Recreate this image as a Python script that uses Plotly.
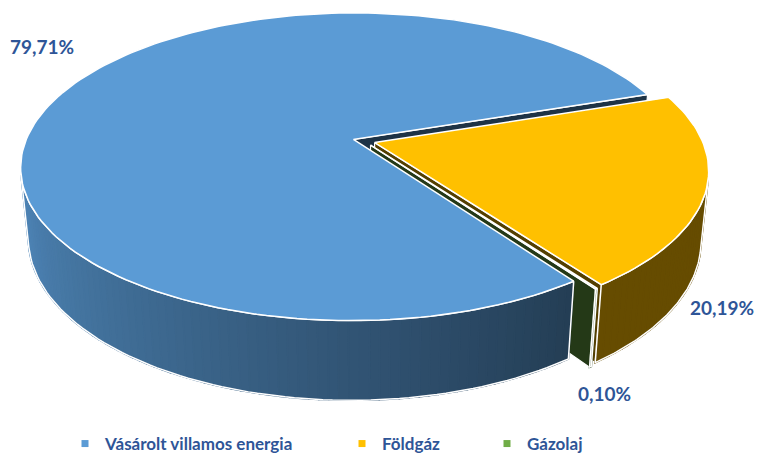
import numpy as np
import plotly.graph_objects as go

# ---- data ----
categories = ["Vásárolt villamos energia", "Földgáz", "Gázolaj"]
values = [79.71, 20.19, 0.10]
top_colors = ["#5B9BD5", "#FFC000", "#70AD47"]
label_color = "#2E5597"

# ---- 3D view settings ----
W, H = 758, 454
CX, CY, F = 364, 141, 1639
ELEV = np.radians(27.15)
S, C = np.sin(ELEV), np.cos(ELEV)
D = 5.62 * C
DEPTH = 0.245
PULL = 0.034
ROT = 144.5  # start angle of first slice, clockwise from far side


def proj(X, Y, Z):
    X, Y, Z = np.asarray(X, float), np.asarray(Y, float), np.asarray(Z, float)
    d = Y * C - Z * S + D
    return CX + F * X / d, CY - F * (Y * S + Z * C) / d, d


def hex2rgb(h):
    h = h.lstrip("#")
    return [int(h[i:i + 2], 16) for i in (0, 2, 4)]


def shade(h, f):
    r, g, b = hex2rgb(h)
    return "rgb(%d,%d,%d)" % (r * f, g * f, b * f)


def wall_factor(theta):
    t = theta % 360
    return 0.40 + 0.47 * np.clip((t - 145) / 111, 0, 1)


fig = go.Figure()
total = sum(values)
walls = []   # (depth, x, y, color, outline)
tops = []
cum = 0.0
for i, v in enumerate(values):
    a0 = ROT + 360 * cum / total
    a1 = a0 + 360 * v / total
    cum += v
    mid = np.radians((a0 + a1) / 2)
    ox, oy = PULL * np.sin(mid), PULL * np.cos(mid)
    n = max(3, int((a1 - a0) / 1.5) + 2)
    th = np.radians(np.linspace(a0, a1, n))
    # top face
    X = np.concatenate([[ox], ox + np.sin(th), [ox]])
    Y = np.concatenate([[oy], oy + np.cos(th), [oy]])
    tx, ty, _ = proj(X, Y, np.zeros_like(X))
    tops.append((tx, ty, top_colors[i]))
    # rim wall: small quads where visible
    vis_pts = []
    for k in range(n - 1):
        tm = (th[k] + th[k + 1]) / 2
        if 1 + ox * np.sin(tm) + oy * np.cos(tm) + D * C * np.cos(tm) < 0:
            ta, tb = th[k], th[k + 1]
            Xq = [ox + np.sin(ta), ox + np.sin(tb), ox + np.sin(tb), ox + np.sin(ta), ox + np.sin(ta)]
            Yq = [oy + np.cos(ta), oy + np.cos(tb), oy + np.cos(tb), oy + np.cos(ta), oy + np.cos(ta)]
            Zq = [0, 0, -DEPTH, -DEPTH, 0]
            qx, qy, qd = proj(Xq, Yq, Zq)
            col = shade(top_colors[i], wall_factor(np.degrees(tm)))
            walls.append((qd.mean() - 0.5, qx, qy, col, False))
            vis_pts.append((ta, tb))
    if vis_pts:
        ta, tb = vis_pts[0][0], vis_pts[-1][1]
        tt = np.linspace(ta, tb, 80)
        Xo = np.concatenate([ox + np.sin(tt), ox + np.sin(tt[::-1]), [ox + np.sin(ta)]])
        Yo = np.concatenate([oy + np.cos(tt), oy + np.cos(tt[::-1]), [oy + np.cos(ta)]])
        Zo = np.concatenate([np.zeros(80), -DEPTH * np.ones(80), [0]])
        qx, qy, qd = proj(Xo, Yo, Zo)
        walls.append((-100, qx, qy, None, True))
    # radial faces
    for ang, nvec in ((a0, (-np.cos(np.radians(a0)), np.sin(np.radians(a0)))),
                      (a1, (np.cos(np.radians(a1)), -np.sin(np.radians(a1))))):
        if nvec[0] * ox + nvec[1] * (oy + D * C) < 0:
            r = np.radians(ang)
            Xq = [ox, ox + np.sin(r), ox + np.sin(r), ox, ox]
            Yq = [oy, oy + np.cos(r), oy + np.cos(r), oy, oy]
            Zq = [0, 0, -DEPTH, -DEPTH, 0]
            qx, qy, qd = proj(Xq, Yq, Zq)
            walls.append((qd.mean(), qx, qy, shade(top_colors[i], 0.33), True))

walls.sort(key=lambda w: -w[0])
for dep, qx, qy, col, outline in walls:
    if col is None:
        continue
    fig.add_trace(go.Scatter(x=qx, y=qy, mode="lines", fill="toself", fillcolor=col,
                             line=dict(color=col if not outline else "white",
                                       width=1.6 if not outline else 1.2),
                             hoverinfo="skip", showlegend=False))
for dep, qx, qy, col, outline in walls:
    if col is None:
        fig.add_trace(go.Scatter(x=qx, y=qy, mode="lines", line=dict(color="white", width=1.5),
                                 hoverinfo="skip", showlegend=False))
for tx, ty, col in tops:
    fig.add_trace(go.Scatter(x=tx, y=ty, mode="lines", fill="toself", fillcolor=col,
                             line=dict(color="white", width=1.5),
                             hoverinfo="skip", showlegend=False))

# legend entries (one legend per entry to reproduce spacing)
legend_x = [65, 342, 487]
for i, cat in enumerate(categories):
    lg = "legend" if i == 0 else "legend%d" % (i + 1)
    fig.add_trace(go.Scatter(x=[None], y=[None], mode="markers", name=cat,
                             marker=dict(symbol="square", size=7, color=top_colors[i]),
                             legend=lg))

label_pos = [(42, 46), (722, 307), (604, 393)]
for v, (lx, ly) in zip(values, label_pos):
    fig.add_annotation(x=lx / W, y=1 - ly / H, xref="paper", yref="paper", showarrow=False,
                       xanchor="center", yanchor="middle",
                       text=("%.2f" % v).replace(".", ",") + "%",
                       font=dict(family="Lato", size=19, color=label_color, weight="bold"))

legfont = dict(family="Lato", size=17, color=label_color, weight="bold")
layout_leg = {}
for i in range(3):
    key = "legend" if i == 0 else "legend%d" % (i + 1)
    layout_leg[key] = dict(x=legend_x[i] / W, y=1 - 444 / H, xanchor="left", yanchor="middle",
                           orientation="h", font=legfont, itemwidth=30,
                           bgcolor="rgba(0,0,0,0)", borderwidth=0)

fig.update_layout(
    width=W, height=H, margin=dict(l=0, r=0, t=0, b=0, autoexpand=False),
    paper_bgcolor="white", plot_bgcolor="white",
    xaxis=dict(range=[0, W], visible=False, fixedrange=True),
    yaxis=dict(range=[H, 0], visible=False, fixedrange=True),
    **layout_leg,
)
fig.write_html("out.html", config={"displayModeBar": False},
               post_script="document.body.style.margin='0';")
